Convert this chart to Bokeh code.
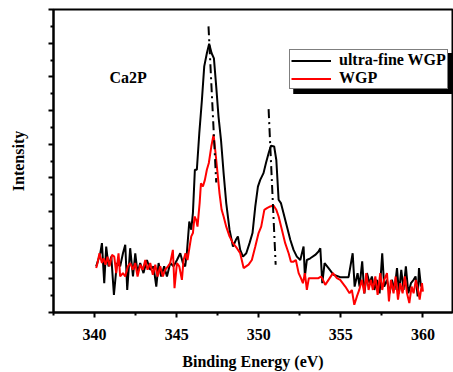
from bokeh.plotting import figure
from bokeh.models import (Range1d, Legend, LegendItem, Label, BoxAnnotation, FixedTicker,
                          CustomLabelingPolicy)
from bokeh.embed import file_html
from bokeh.resources import INLINE

# Ca2P XPS spectra: binding energy (eV) vs intensity (a.u.)
ultrafine_energy = [
    340.10, 340.35, 340.45, 340.59, 340.71, 340.85, 341.02, 341.18, 341.36, 341.56,
    341.73, 341.87, 341.99, 342.17, 342.34, 342.48, 342.62, 342.78, 342.98, 343.19,
    343.39, 343.59, 343.76, 343.90, 344.06, 344.24, 344.41, 344.61, 344.81, 345.02,
    345.22, 345.38, 345.52, 345.62, 345.77, 345.89, 345.99, 346.11, 346.23, 346.38,
    346.54, 346.68, 346.84, 346.98, 347.13, 347.27, 347.41, 347.55, 347.70, 347.86,
    348.02, 348.22, 348.43, 348.61, 348.73, 348.87, 349.04, 349.24, 349.44, 349.62,
    349.79, 349.95, 350.09, 350.29, 350.44, 350.60, 350.74, 350.94, 351.07, 351.21,
    351.35, 351.51, 351.72, 351.92, 352.12, 352.32, 352.53, 352.73, 352.81, 352.93,
    353.14, 353.44, 353.64, 353.75, 353.87, 354.01, 354.25, 354.56, 354.96, 355.47,
    355.72, 355.84, 356.02, 356.14, 356.30, 356.43, 356.59, 356.75, 356.89, 357.04,
    357.20, 357.36, 357.52, 357.64, 357.81, 357.97, 358.11, 358.27, 358.42, 358.54,
    358.68, 358.82, 358.96, 359.11, 359.27, 359.43, 359.55, 359.68, 359.76, 359.88,
]
ultrafine_intensity = [
    1.37, 1.76, 2.06, 0.87, 1.96, 1.37, 1.66, 0.52, 1.47, 1.37,
    1.76, 2.01, 0.67, 1.91, 1.07, 1.76, 1.17, 1.47, 1.17, 1.56,
    1.27, 1.37, 0.77, 1.47, 1.07, 1.37, 1.07, 1.47, 1.37, 1.56,
    1.76, 1.47, 1.37, 1.76, 2.70, 2.46, 2.95, 4.24, 4.24, 5.33,
    6.32, 7.31, 7.70, 7.98, 7.70, 7.55, 6.71, 5.82, 5.13, 4.14,
    3.25, 2.46, 1.96, 2.16, 2.26, 1.86, 1.66, 1.76, 2.06, 2.36,
    3.15, 3.74, 3.94, 4.14, 4.44, 4.73, 4.95, 4.93, 4.53, 3.35,
    3.25, 2.95, 2.55, 2.16, 1.86, 1.66, 1.56, 1.96, 1.07, 1.56,
    1.61, 1.71, 1.81, 1.91, 0.87, 1.47, 1.32, 1.12, 1.05, 1.05,
    1.76, 0.77, 1.17, 0.77, 1.52, 0.57, 1.17, 0.87, 1.07, 0.67,
    0.97, 0.57, 1.76, 0.77, 0.97, 0.57, 0.97, 0.67, 1.32, 0.57,
    1.27, 0.67, 1.37, 0.57, 0.87, 0.97, 1.07, 0.48, 1.32, 0.77,
]

wgp_energy = [
    340.10, 340.18, 340.30, 340.45, 340.55, 340.67, 340.79, 340.91, 341.06, 341.20,
    341.32, 341.46, 341.56, 341.73, 341.87, 342.03, 342.17, 342.34, 342.48, 342.62,
    342.78, 342.94, 343.09, 343.23, 343.39, 343.55, 343.70, 343.84, 344.00, 344.16,
    344.30, 344.47, 344.61, 344.77, 344.87, 345.02, 345.16, 345.32, 345.42, 345.54,
    345.66, 345.79, 345.89, 345.99, 346.09, 346.19, 346.27, 346.40, 346.48, 346.60,
    346.72, 346.84, 346.96, 347.11, 347.25, 347.37, 347.49, 347.61, 347.74, 347.86,
    348.02, 348.22, 348.43, 348.67, 348.87, 349.08, 349.38, 349.58, 349.79, 349.99,
    350.15, 350.34, 350.50, 350.70, 350.90, 351.07, 351.21, 351.41, 351.61, 351.82,
    351.96, 352.12, 352.26, 352.43, 352.57, 352.69, 352.81, 352.93, 353.05, 353.34,
    353.64, 353.79, 353.91, 354.05, 354.25, 354.52, 354.76, 354.96, 355.27, 355.53,
    355.67, 355.82, 355.98, 356.12, 356.28, 356.43, 356.55, 356.69, 356.83, 356.95,
    357.10, 357.24, 357.40, 357.52, 357.64, 357.81, 357.93, 358.05, 358.21, 358.34,
    358.48, 358.62, 358.76, 358.90, 359.03, 359.17, 359.31, 359.43, 359.57, 359.70,
    359.80, 359.94, 360.00,
]
wgp_intensity = [
    1.32, 1.47, 1.76, 1.47, 1.61, 1.42, 1.66, 1.37, 1.71, 1.66,
    1.17, 1.76, 1.07, 1.17, 1.07, 1.37, 1.47, 1.27, 1.47, 1.07,
    1.42, 1.27, 1.56, 1.27, 1.47, 1.12, 1.42, 1.07, 1.37, 1.07,
    1.27, 1.37, 1.47, 1.86, 0.72, 1.47, 1.37, 0.97, 1.56, 1.76,
    1.56, 1.96, 2.26, 2.36, 2.85, 2.75, 2.55, 3.25, 3.84, 3.74,
    3.94, 4.24, 4.44, 4.93, 5.28, 4.73, 4.14, 3.54, 3.05, 2.85,
    2.55, 2.26, 2.06, 1.91, 1.76, 1.32, 1.42, 1.56, 1.96, 2.36,
    2.55, 3.05, 3.10, 3.15, 3.18, 3.05, 2.85, 2.46, 2.06, 1.76,
    1.51, 1.51, 1.56, 1.17, 1.02, 0.87, 1.17, 0.67, 1.02, 1.02,
    1.02, 1.07, 0.97, 0.82, 0.97, 1.17, 1.02, 0.97, 0.77, 0.57,
    0.67, 0.23, 0.48, 0.67, 0.97, 0.57, 1.17, 0.67, 0.97, 0.67,
    1.07, 0.52, 1.17, 0.67, 0.97, 1.17, 0.33, 0.97, 0.57, 1.07,
    0.38, 0.87, 0.57, 1.07, 0.57, 0.28, 0.77, 0.57, 0.97, 0.67,
    0.38, 0.87, 0.62,
]

# Dash-dot guide lines marking the peak shift (energy, intensity at each end)
guide1_energy = [346.94, 347.41]
guide1_intensity = [8.50, 3.86]
guide2_energy = [350.60, 351.03]
guide2_intensity = [6.04, 1.42]

x_major_ticks = [340, 345, 350, 355, 360]
x_minor_ticks = [337.5, 342.5, 347.5, 352.5, 357.5]
y_major_ticks = [0, 1, 2, 3, 4, 5, 6, 7, 8, 9]
y_minor_ticks = [0.5, 1.5, 2.5, 3.5, 4.5, 5.5, 6.5, 7.5, 8.5]

FONT = "Liberation Serif"

p = figure(
    width=453, height=372,
    output_backend="svg", toolbar_location=None,
    x_range=Range1d(337.5, 361.8), y_range=Range1d(0, 9),
    min_border_left=53, min_border_right=1, min_border_top=9, min_border_bottom=59,
    background_fill_color="white", border_fill_color="white",
)
p.grid.visible = False
p.outline_line_color = "black"
p.outline_line_width = 2

# axes
p.xaxis.ticker = FixedTicker(ticks=x_major_ticks, minor_ticks=x_minor_ticks)
p.yaxis.ticker = FixedTicker(ticks=y_major_ticks, minor_ticks=y_minor_ticks)
for ax in (p.xaxis[0], p.yaxis[0]):
    ax.axis_line_width = 2
    ax.major_tick_line_width = 2
    ax.minor_tick_line_width = 2
    ax.major_tick_in = 0
    ax.major_tick_out = 5
    ax.minor_tick_in = 0
    ax.minor_tick_out = 3
    ax.axis_label_text_font = FONT
    ax.axis_label_text_font_style = "bold"
    ax.axis_label_text_font_size = "16px"
    ax.axis_label_text_color = "black"
    ax.major_label_text_font = FONT
    ax.major_label_text_font_style = "bold"
    ax.major_label_text_font_size = "16px"
    ax.major_label_text_color = "black"

p.xaxis.axis_label = "Binding Energy (eV)"
p.xaxis.major_label_standoff = 11
p.xaxis.axis_label_standoff = 10
p.yaxis.axis_label = "Intensity"
# intensity in arbitrary units: tick marks only, no numbers
p.yaxis.major_label_text_font_size = "0px"
p.yaxis.major_label_policy = CustomLabelingPolicy(
    code="for (const i of [...indices]) { indices.unset(i) } return indices")
p.yaxis.axis_label_standoff = 22

# spectra
r_uf = p.line(ultrafine_energy, ultrafine_intensity, line_color="black", line_width=2)
r_wgp = p.line(wgp_energy, wgp_intensity, line_color="#ff0000", line_width=2)

# peak guides
p.line(guide1_energy, guide1_intensity, line_color="black", line_width=2, line_dash="9 4 2 4")
p.line(guide2_energy, guide2_intensity, line_color="black", line_width=2, line_dash="9 4 2 4")

p.add_layout(Label(x=342.05, y=6.97, text="Ca2P", text_font=FONT, text_font_style="bold",
                   text_font_size="16px", text_align="center", text_baseline="middle",
                   text_color="black"))

# legend shadow
p.add_layout(BoxAnnotation(left=352.1, right=361.8, top=7.71, bottom=6.49,
                           fill_color="black", fill_alpha=1.0, line_color=None, level="overlay"))

legend = Legend(
    items=[LegendItem(label="ultra-fine WGP", renderers=[r_uf]),
           LegendItem(label="WGP", renderers=[r_wgp])],
    location=(236, 223),
    orientation="vertical",
    padding=1, spacing=0, margin=0,
    glyph_width=40, glyph_height=15, label_height=15, label_standoff=8,
    label_text_font=FONT, label_text_font_style="bold", label_text_font_size="16px",
    label_text_color="black",
    border_line_color="black", border_line_width=1.5,
    background_fill_color="white", background_fill_alpha=1.0,
    level="overlay",
)
p.add_layout(legend)

open("out.html", "w").write(file_html(p, INLINE))
